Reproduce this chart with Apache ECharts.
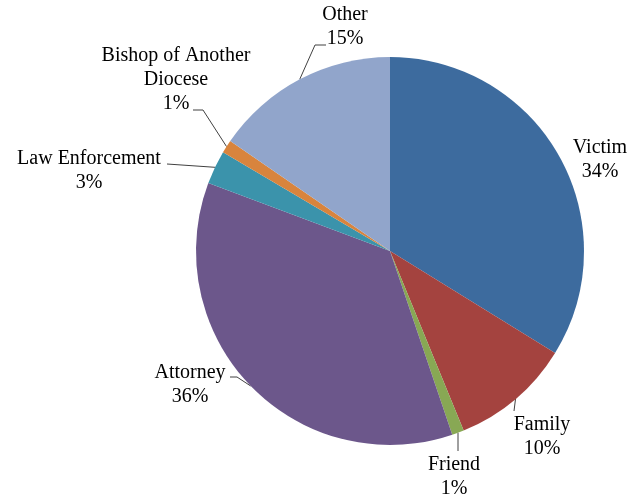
<!DOCTYPE html>
<html>
<head>
<meta charset="utf-8">
<script src="https://cdn.jsdelivr.net/npm/echarts@6/dist/echarts.min.js"></script>
<style>html,body{margin:0;padding:0;background:#fff}#c{width:639px;height:500px}</style>
</head>
<body>
<div id="c"></div>
<script>
// Data
var categories = ['Victim', 'Family', 'Friend', 'Attorney', 'Law Enforcement', 'Bishop of Another Diocese', 'Other'];
var values = [33.8, 10.0, 1.0, 35.9, 2.8, 1.1, 15.4];
var colors = ['#3D6B9E', '#A4433F', '#88A854', '#6C578B', '#3B93AB', '#D8843D', '#91A5CB'];

// Label layout (positions of label centres and leader line bends)
var labelPos = [
  {x: 600, y: 160, line: null},
  {x: 542, y: 437, line: [[514, 411]]},
  {x: 454, y: 477, line: [[458, 451]]},
  {x: 190, y: 385, line: [[237, 377], [230, 377]]},
  {x: 89,  y: 171, line: [[167, 164]]},
  {x: 176, y: 80,  line: [[203, 110], [193, 110]]},
  {x: 345, y: 27,  line: [[315, 45], [326, 45]]}
];

var data = categories.map(function (c, i) {
  var d = {name: c, value: values[i], itemStyle: {color: colors[i]}};
  if (!labelPos[i].line) d.labelLine = {show: false};
  return d;
});

var chart = echarts.init(document.getElementById('c'));
chart.setOption({
  animation: false,
  series: [{
    type: 'pie',
    center: [390, 251],
    radius: 194,
    startAngle: 90,
    clockwise: true,
    avoidLabelOverlap: false,
    itemStyle: {borderWidth: 0},
    label: {
      show: true,
      position: 'outside',
      fontFamily: 'Liberation Serif',
      fontSize: 20,
      lineHeight: 24,
      color: '#000',
      align: 'center',
      formatter: function (p) {
        return p.name.replace('Another ', 'Another\n') + '\n' + Math.round(p.percent) + '%';
      }
    },
    labelLine: {
      show: true,
      length: 10,
      length2: 10,
      lineStyle: {color: '#404040', width: 1}
    },
    labelLayout: function (p) {
      var L = labelPos[p.dataIndex];
      var out = {x: L.x, y: L.y, align: 'center', verticalAlign: 'middle'};
      if (L.line && p.labelLinePoints) {
        var start = p.labelLinePoints[0];
        var pts = [start].concat(L.line);
        if (pts.length === 2) pts = [start, L.line[0], L.line[0]];
        out.labelLinePoints = pts;
      }
      return out;
    },
    data: data
  }]
});
</script>
</body>
</html>
